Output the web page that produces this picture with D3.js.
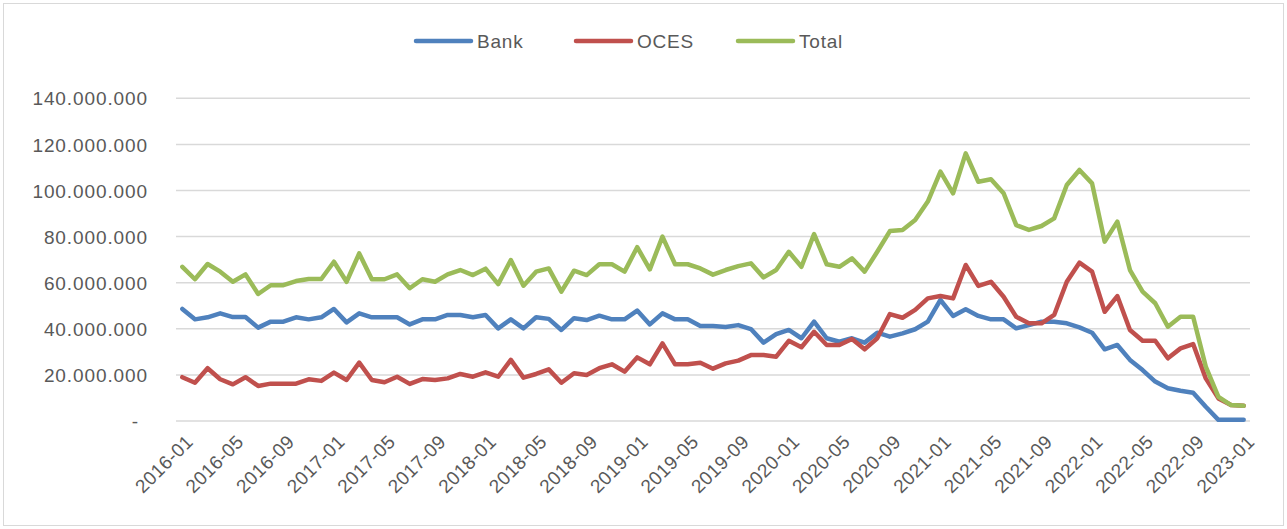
<!DOCTYPE html>
<html>
<head>
<meta charset="utf-8">
<script src="https://cdn.jsdelivr.net/npm/d3@7/dist/d3.min.js"></script>
<style>
  html, body { margin: 0; padding: 0; background: #fff; }
  svg { display: block; }
  text { font-family: "Liberation Sans", Arial, sans-serif; fill: #595959; }
</style>
</head>
<body>
<svg id="chart" width="1287" height="529"></svg>
<script>
const categories = [
  "2016-01","2016-02","2016-03","2016-04","2016-05","2016-06","2016-07","2016-08","2016-09","2016-10","2016-11","2016-12",
  "2017-01","2017-02","2017-03","2017-04","2017-05","2017-06","2017-07","2017-08","2017-09","2017-10","2017-11","2017-12",
  "2018-01","2018-02","2018-03","2018-04","2018-05","2018-06","2018-07","2018-08","2018-09","2018-10","2018-11","2018-12",
  "2019-01","2019-02","2019-03","2019-04","2019-05","2019-06","2019-07","2019-08","2019-09","2019-10","2019-11","2019-12",
  "2020-01","2020-02","2020-03","2020-04","2020-05","2020-06","2020-07","2020-08","2020-09","2020-10","2020-11","2020-12",
  "2021-01","2021-02","2021-03","2021-04","2021-05","2021-06","2021-07","2021-08","2021-09","2021-10","2021-11","2021-12",
  "2022-01","2022-02","2022-03","2022-04","2022-05","2022-06","2022-07","2022-08","2022-09","2022-10","2022-11","2022-12",
  "2023-01"
];

// values in millions
const bank = [
  48.6,44.1,45.0,46.7,45.1,45.1,40.5,43.1,43.1,45.0,44.1,45.0,
  48.6,42.8,46.7,45.0,45.0,45.0,41.9,44.1,44.1,46.0,46.0,45.0,
  46.0,40.2,44.1,40.2,45.0,44.3,39.5,44.6,43.8,45.7,44.1,44.1,
  47.9,41.9,46.7,44.1,44.1,41.2,41.2,40.8,41.6,39.9,34.0,37.7,
  39.5,35.9,43.1,35.9,34.4,35.9,34.0,38.3,36.6,38.0,39.8,43.1,
  52.5,45.6,48.5,45.6,44.1,44.1,40.2,41.6,43.1,43.1,42.4,40.6,
  38.3,31.1,33.0,26.5,22.1,17.1,14.2,13.1,12.3,6.2,0.5,0.5,
  0.5
];
const oces = [
  19.0,16.6,22.9,18.1,15.9,19.0,15.2,16.2,16.2,16.2,18.1,17.4,
  21.0,17.8,25.3,17.8,16.8,19.2,16.1,18.2,17.8,18.5,20.4,19.2,
  21.1,19.2,26.5,18.8,20.4,22.4,16.6,20.7,20.0,22.9,24.6,21.4,
  27.6,24.6,33.7,24.6,24.6,25.3,22.7,25.0,26.2,28.6,28.6,27.9,
  34.8,32.0,38.7,33.0,33.0,35.6,31.1,35.9,46.4,44.8,48.2,53.2,
  54.2,53.2,67.7,58.6,60.4,53.9,45.2,42.4,42.4,46.0,60.4,68.7,
  64.8,47.4,54.2,39.5,34.8,34.8,27.2,31.5,33.4,18.5,9.8,6.9,
  6.6
];
const total = [
  66.9,61.5,68.1,64.8,60.4,63.6,55.1,58.9,58.9,60.7,61.6,61.6,
  69.1,60.4,72.7,61.5,61.5,63.6,57.6,61.5,60.4,63.6,65.5,63.3,
  66.1,59.4,69.8,58.7,64.8,66.2,56.1,65.2,63.3,68.0,68.0,64.8,
  75.4,65.8,80.0,68.0,68.0,66.2,63.5,65.5,67.2,68.4,62.3,65.5,
  73.4,66.9,81.1,68.0,66.9,70.6,64.8,73.4,82.4,82.9,87.2,95.2,
  108.2,98.8,116.1,103.8,104.9,98.8,85.0,82.9,84.6,87.9,102.4,108.9,
  103.1,77.8,86.5,65.5,56.1,51.1,40.9,45.2,45.2,23.6,10.5,6.9,
  6.6
];

const seriesNames = ["Bank", "OCES", "Total"];
const seriesColors = ["#4F81BD", "#C0504D", "#9BBB59"];
const yTickValues = [0, 20, 40, 60, 80, 100, 120, 140];
const yTickLabels = ["-", "20.000.000", "40.000.000", "60.000.000", "80.000.000", "100.000.000", "120.000.000", "140.000.000"];
const xTickLabels = ["2016-01","2016-05","2016-09","2017-01","2017-05","2017-09","2018-01","2018-05","2018-09","2019-01","2019-05","2019-09","2020-01","2020-05","2020-09","2021-01","2021-05","2021-09","2022-01","2022-05","2022-09","2023-01"];

const W = 1287, H = 529;
const plot = { left: 176, right: 1250, top: 98.3, bottom: 421 };

const svg = d3.select("#chart");

// chart border
svg.append("rect")
  .attr("x", 3.5).attr("y", 3.5)
  .attr("width", W - 7).attr("height", H - 7)
  .attr("fill", "none").attr("stroke", "#D9D9D9").attr("stroke-width", 1);

const x = d3.scaleBand().domain(categories).range([plot.left, plot.right]).paddingInner(0).paddingOuter(0);
const xc = d => x(d) + x.bandwidth() / 2;
const y = d3.scaleLinear().domain([0, 140]).range([plot.bottom, plot.top]);

// gridlines
svg.append("g")
  .selectAll("line")
  .data(yTickValues)
  .join("line")
  .attr("x1", plot.left).attr("x2", plot.right)
  .attr("y1", d => y(d)).attr("y2", d => y(d))
  .attr("stroke", "#D9D9D9").attr("stroke-width", 1.5);

// y axis labels
const yAxis = d3.axisLeft(y)
  .tickValues(yTickValues)
  .tickSize(0)
  .tickPadding(0)
  .tickFormat((d, i) => yTickLabels[i]);
const gy = svg.append("g").attr("transform", "translate(148,0)").call(yAxis);
gy.select(".domain").remove();
gy.selectAll("text")
  .attr("font-size", "19px")
  .attr("font-family", "Liberation Sans, Arial, sans-serif")
  .attr("fill", "#595959")
  .style("letter-spacing", "0.9px")
  .attr("dy", "0.35em");
gy.selectAll(".tick").filter(d => d === 0).select("text").attr("x", -9);

// x axis labels
const xAxis = d3.axisBottom(x)
  .tickValues(xTickLabels)
  .tickSize(0)
  .tickPadding(0);
const gx = svg.append("g").attr("transform", `translate(0,${plot.bottom})`).call(xAxis);
gx.select(".domain").remove();
gx.selectAll("text")
  .attr("font-size", "19px")
  .attr("font-family", "Liberation Sans, Arial, sans-serif")
  .attr("fill", "#595959")
  .style("letter-spacing", "0.4px")
  .attr("text-anchor", "end")
  .attr("dy", null)
  .attr("y", 0)
  .attr("transform", "translate(12,22) rotate(-45)");

// lines
const seriesData = [bank, oces, total];
const line = d3.line()
  .x((d, i) => xc(categories[i]))
  .y(d => y(d));
svg.append("g")
  .selectAll("path")
  .data(seriesData)
  .join("path")
  .attr("d", d => line(d))
  .attr("fill", "none")
  .attr("stroke", (d, i) => seriesColors[i])
  .attr("stroke-width", 4.5)
  .attr("stroke-linejoin", "round")
  .attr("stroke-linecap", "round");

// legend
const legendX = [416, 576, 738];
const lg = svg.append("g");
seriesNames.forEach((name, i) => {
  lg.append("line")
    .attr("x1", legendX[i]).attr("x2", legendX[i] + 55)
    .attr("y1", 41).attr("y2", 41)
    .attr("stroke", seriesColors[i]).attr("stroke-width", 4.5)
    .attr("stroke-linecap", "round");
  lg.append("text")
    .attr("x", legendX[i] + 61).attr("y", 41)
    .attr("dy", "0.35em")
    .attr("font-size", "19px")
    .style("letter-spacing", "0.8px")
    .attr("fill", "#595959")
    .text(name);
});
</script>
</body>
</html>
